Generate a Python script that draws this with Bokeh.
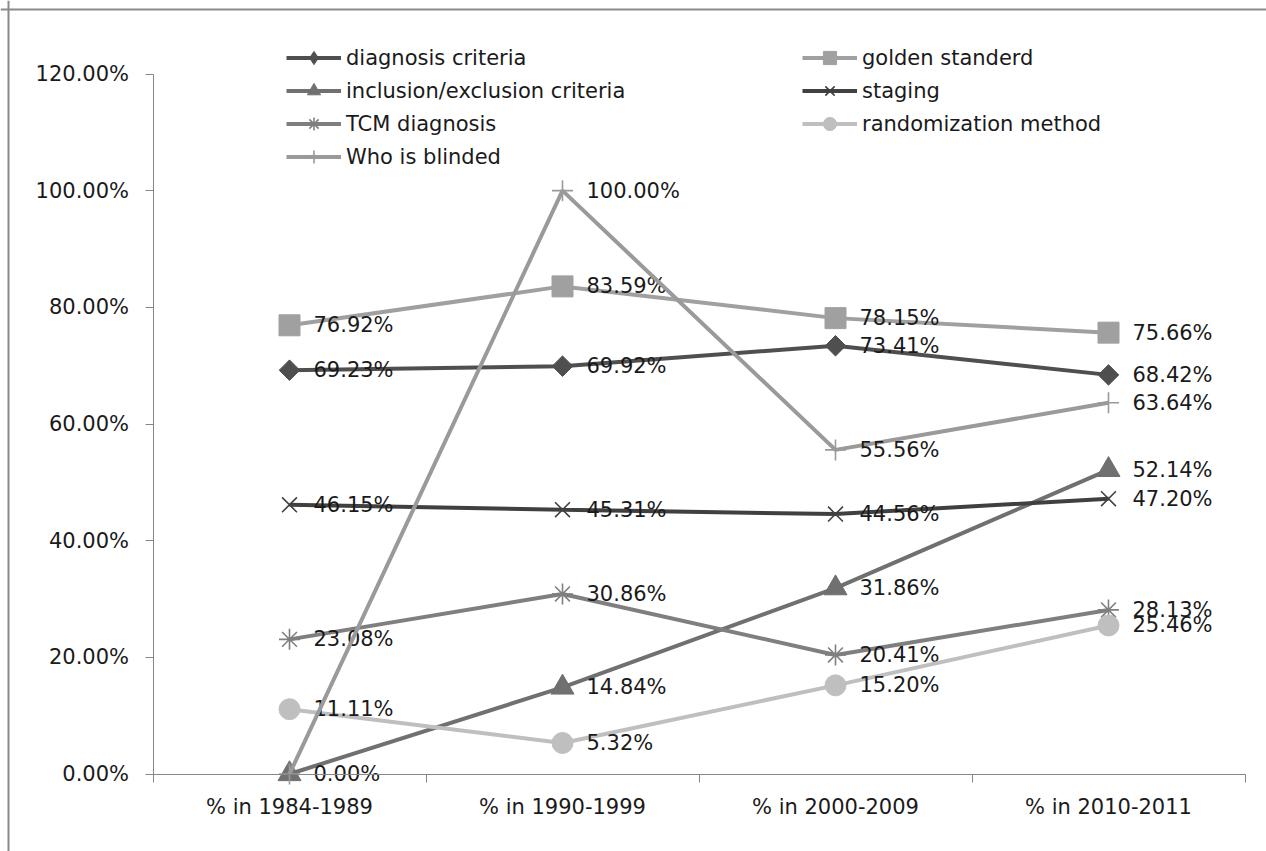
import math
from bokeh.plotting import figure
from bokeh.models import (Range1d, FixedTicker, NumeralTickFormatter, Legend, LegendItem,
                          ColumnDataSource, Span)
from bokeh.core.properties import value
from bokeh.embed import file_html
from bokeh.resources import INLINE

categories = ["% in 1984-1989", "% in 1990-1999", "% in 2000-2009", "% in 2010-2011"]
diagnosis_criteria = [69.23, 69.92, 73.41, 68.42]
golden_standerd = [76.92, 83.59, 78.15, 75.66]
inclusion_exclusion = [0.00, 14.84, 31.86, 52.14]
staging = [46.15, 45.31, 44.56, 47.20]
tcm_diagnosis = [23.08, 30.86, 20.41, 28.13]
randomization_method = [11.11, 5.32, 15.20, 25.46]
who_is_blinded = [0.00, 100.00, 55.56, 63.64]
y_ticks = [0, 20, 40, 60, 80, 100, 120]

series = [
    ("diagnosis criteria", diagnosis_criteria, "#4f4f4f", "diamond"),
    ("golden standerd", golden_standerd, "#a0a0a0", "square"),
    ("inclusion/exclusion criteria", inclusion_exclusion, "#707070", "triangle"),
    ("staging", staging, "#404040", "x"),
    ("TCM diagnosis", tcm_diagnosis, "#7f7f7f", "asterisk"),
    ("randomization method", randomization_method, "#bfbfbf", "circle"),
    ("Who is blinded", who_is_blinded, "#9a9a9a", "cross"),
]

FONT = "DejaVu Sans"

# Canvas geometry (the frame covers the whole canvas; axes are fixed inside it)
W, H = 1266, 851
AX_LEFT_PX = 152.5      # pixel x of the y axis (left edge of first category)
AX_ZERO_PX = 773.5      # pixel y of 0%
PX_PER_CAT = 273.0
PX_PER_UNIT = 700.0 / 1.2

x_start = 0.5 - AX_LEFT_PX / PX_PER_CAT
x_end = x_start + W / PX_PER_CAT
y_start = -(H - AX_ZERO_PX) / PX_PER_UNIT
y_end = y_start + H / PX_PER_UNIT

p = figure(frame_width=W, frame_height=H,
           min_border_left=0, min_border_right=0, min_border_top=0, min_border_bottom=0,
           x_range=Range1d(x_start, x_end), y_range=Range1d(y_start, y_end),
           output_backend="svg", toolbar_location=None, tools="")
p.outline_line_color = None
p.background_fill_color = "white"
p.border_fill_color = "white"
p.xgrid.visible = False
p.ygrid.visible = False

xs = list(range(1, len(categories) + 1))
n_cat = len(categories)

# x axis: labels at category centers, ticks at category boundaries
xa = p.xaxis[0]
xa.fixed_location = 0
xa.bounds = (0.5, n_cat + 0.5)
xa.ticker = FixedTicker(ticks=xs, minor_ticks=[i + 0.5 for i in range(0, n_cat + 1)])
xa.major_label_overrides = {i: c for i, c in zip(xs, categories)}
xa.major_tick_out = 0
xa.major_tick_in = 0
xa.minor_tick_out = 8
xa.minor_tick_in = 0
xa.minor_tick_line_color = "#868686"
xa.axis_line_color = "#868686"
xa.major_label_standoff = 13
xa.major_label_text_font = FONT
xa.major_label_text_font_size = "21px"
xa.major_label_text_color = "#1a1a1a"

ya = p.yaxis[0]
ya.fixed_location = 0.5
ya.bounds = (0, y_ticks[-1] / 100)
ya.ticker = FixedTicker(ticks=[t / 100 for t in y_ticks], minor_ticks=[])
ya.formatter = NumeralTickFormatter(format="0.00%")
ya.major_tick_out = 8
ya.major_tick_in = 0
ya.major_tick_line_color = "#868686"
ya.axis_line_color = "#868686"
ya.major_label_standoff = 16
ya.major_label_text_font = FONT
ya.major_label_text_font_size = "21px"
ya.major_label_text_color = "#1a1a1a"

# outer chart border (left and top edges visible; others lie beyond the window)
p.add_layout(Span(location=x_start + 8 / PX_PER_CAT, dimension="height",
                  line_color="#8a8a8a", line_width=2))
p.add_layout(Span(location=y_end - 9 / PX_PER_UNIT, dimension="width",
                  line_color="#8a8a8a", line_width=2))

items = []
seen = set()
for name, vals, color, marker in series:
    yv = [v / 100 for v in vals]
    src = ColumnDataSource(dict(x=xs, y=yv, lab=["%.2f%%" % v for v in vals]))
    l = p.line("x", "y", source=src, line_color=color, line_width=4)
    if marker == "diamond":
        # narrow diamond used for the legend, hidden beneath the rotated square
        m = p.scatter("x", "y", source=src, marker="diamond", size=19,
                      fill_color=color, line_color=color)
        p.scatter("x", "y", source=src, marker="square", angle=math.pi / 4, size=14.5,
                  fill_color=color, line_color=color)
    elif marker in ("x", "asterisk", "cross"):
        m = p.scatter("x", "y", source=src, marker=marker, size=21, line_color=color,
                      line_width=1.6, fill_color=None)
    elif marker == "triangle":
        m = p.scatter("x", "y", source=src, marker="triangle", size=23,
                      fill_color=color, line_color=color)
    else:
        m = p.scatter("x", "y", source=src, marker=marker, size=21,
                      fill_color=color, line_color=color)
    items.append(LegendItem(label=name, renderers=[l, m]))
    # data labels (skip exact duplicates at the same point)
    lx, ly, lt = [], [], []
    for x, y, t in zip(xs, yv, src.data["lab"]):
        key = (x, round(y, 6))
        if key in seen:
            continue
        seen.add(key)
        lx.append(x); ly.append(y); lt.append(t)
    p.text(x=lx, y=ly, text=lt, x_offset=24, text_align="left", text_baseline="middle",
           text_font=value(FONT), text_font_size="21px", text_color="#1a1a1a")

left_items = items[0::2]
right_items = items[1::2]

ROW = 33
LEG_TOP = 41

def make_legend(its, x_px):
    h = len(its) * ROW
    lg = Legend(items=its, location=(x_px, H - LEG_TOP - h), orientation="vertical",
                glyph_width=55, glyph_height=ROW, label_height=ROW, label_standoff=5,
                spacing=0, padding=0, margin=0,
                label_text_font=FONT, label_text_font_size="21px", label_text_color="#1a1a1a",
                background_fill_alpha=0, border_line_color=None)
    return lg

p.add_layout(make_legend(left_items, 286), "center")
p.add_layout(make_legend(right_items, 802), "center")

open("out.html", "w").write(file_html(p, INLINE))
